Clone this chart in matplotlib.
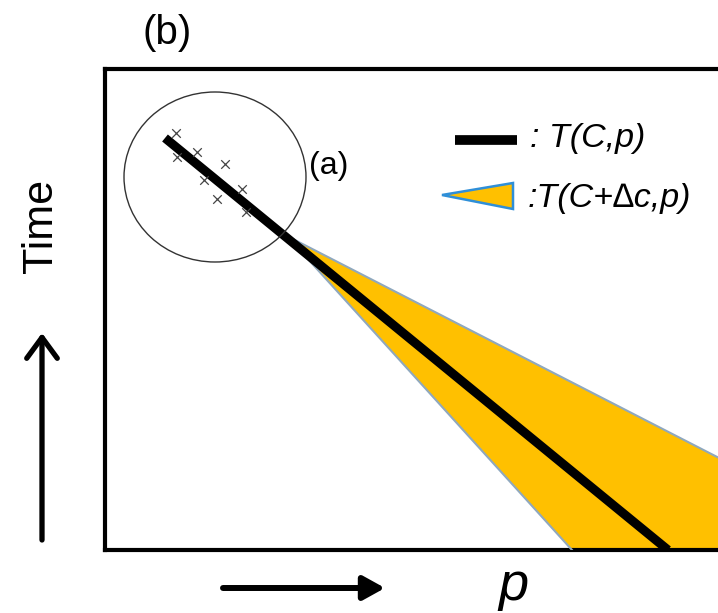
import matplotlib
matplotlib.use("Agg")
import matplotlib.pyplot as plt
from matplotlib.patches import Ellipse, Polygon, FancyArrowPatch

plt.rcParams['font.family'] = ['Liberation Sans', 'DejaVu Sans']

W, H = 718, 613
DPI = 100

# ---- data (axes units: p along x, Time along y) ----
line_p = [60, 563]          # T(C,p) line
line_t = [412, 0]
wedge_p = [182, 655, 655, 467]   # T(C+dc,p) band
wedge_t = [314, 71, 0, 0]
upper_p = [182, 655]
upper_t = [314, 71]
lower_p = [182, 467]
lower_t = [314, 0]
cross_p = [71, 72, 92, 120, 99, 137, 112, 141]
cross_t = [417, 393, 398, 386, 370, 361, 351, 338]
circle_c = (110, 373)
circle_w, circle_h = 182, 170
leg_line_p = [350, 412]
leg_line_t = [410, 410]
leg_tri_p = [337, 408, 408]
leg_tri_t = [355, 367, 341]

ORANGE = '#FFC000'
EDGE = '#8FA8BE'

fig = plt.figure(figsize=(W / DPI, H / DPI), dpi=DPI)
# axes frame in pixels: left 105, right 760 (beyond figure), bottom 550, top 69
ax = fig.add_axes([105 / W, (H - 550) / H, (760 - 105) / W, (550 - 69) / H])
ax.set_xlim(0, 655)
ax.set_ylim(0, 481)
ax.set_xticks([])
ax.set_yticks([])
for s in ['left', 'top', 'bottom']:
    ax.spines[s].set_linewidth(3.0)
ax.spines['right'].set_visible(False)

ax.add_patch(Polygon(list(zip(wedge_p, wedge_t)), closed=True,
                     facecolor=ORANGE, edgecolor='none', zorder=2))
ax.plot(upper_p, upper_t, color=EDGE, lw=1.5, zorder=3)
ax.plot(lower_p, lower_t, color=EDGE, lw=1.5, zorder=3)
ax.plot(line_p, line_t, color='black', lw=6.5, solid_capstyle='butt', zorder=4)

ax.add_patch(Ellipse(circle_c, circle_w, circle_h, facecolor='none',
                     edgecolor='#333333', lw=1.0, zorder=5))
ax.scatter(cross_p, cross_t, marker='x', s=38, color='#444444',
           linewidths=0.9, zorder=5)
ax.text(204, 384, '(a)', fontsize=23, ha='left', va='center')

# legend
ax.plot(leg_line_p, leg_line_t, color='black', lw=7, solid_capstyle='butt')
ax.add_patch(Polygon(list(zip(leg_tri_p, leg_tri_t)), closed=True,
                     facecolor=ORANGE, edgecolor='#2F8FD8', lw=1.8))
ax.text(425, 412, ': T(C,p)', fontsize=24.5, style='italic', ha='left', va='center')
ax.text(423, 352, ':T(C+\u2206c,p)', fontsize=24.5, style='italic', ha='left', va='center')

# outer labels
def fx(px):
    return px / W

def fy(py):
    return (H - py) / H

fig.text(fx(167), fy(33), '(b)', fontsize=29, ha='center', va='center')
fig.text(fx(41), fy(226), 'Time', fontsize=31, rotation=90, ha='center', va='center')
fig.text(fx(513), fy(600), 'p', fontsize=39, style='italic', ha='center', va='baseline')

fig.add_artist(FancyArrowPatch((fx(42), fy(540)), (fx(42), fy(333)),
                               transform=fig.transFigure,
                               arrowstyle='->,head_length=0.75,head_width=0.55',
                               mutation_scale=20, lw=3.8, color='black',
                               shrinkA=0, shrinkB=0))
fig.add_artist(FancyArrowPatch((fx(223), fy(588)), (fx(385), fy(588)),
                               transform=fig.transFigure,
                               arrowstyle='-|>,head_length=0.65,head_width=0.36',
                               mutation_scale=20, lw=4.3, color='black',
                               shrinkA=0, shrinkB=0))

fig.savefig('out.png', dpi=DPI)
